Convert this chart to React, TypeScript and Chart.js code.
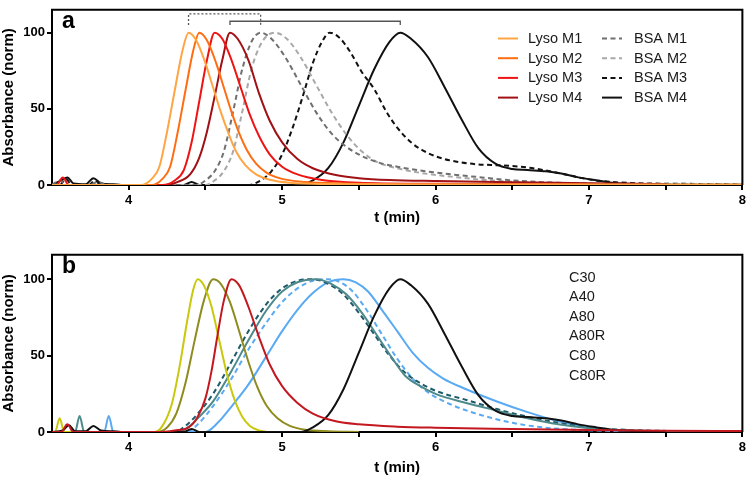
import React, { useEffect, useRef } from "react";
import { Chart, registerables } from "chart.js";
Chart.register(...registerables);

type P = [number, number];

// ---------- axes ----------
const xTickValues = [4, 4.5, 5, 5.5, 6, 6.5, 7, 7.5, 8];
const xTickLabels = ["4", "", "5", "", "6", "", "7", "", "8"];
const yTickValues = [0, 50, 100];
const xTitle = "t (min)";
const yTitle = "Absorbance (norm)";

// ---------- panel a ----------
const lysoM1: P[] = [[3.5, 0], [4.08, 0], [4.15, 4], [4.2, 12], [4.25, 35], [4.3, 62], [4.35, 88], [4.39, 100], [4.44, 95], [4.5, 80], [4.55, 64], [4.6, 48], [4.65, 34], [4.7, 22], [4.76, 13], [4.83, 7], [4.92, 3.5], [5.05, 1.5], [5.3, 0.6], [6, 0.3], [8, 0.3]];
const lysoM2: P[] = [[3.5, 0], [4.15, 0], [4.22, 4], [4.27, 12], [4.32, 35], [4.37, 62], [4.42, 88], [4.46, 100], [4.51, 95], [4.57, 80], [4.62, 64], [4.67, 48], [4.72, 34], [4.77, 23], [4.83, 14], [4.9, 8], [5.0, 4], [5.15, 2], [5.4, 1], [6, 0.5], [7.2, 0.2]];
const lysoM3: P[] = [[3.5, 0], [3.53, 0], [3.57, 5], [3.61, 0], [4.22, 0], [4.3, 3], [4.36, 10], [4.41, 28], [4.46, 55], [4.51, 82], [4.56, 100], [4.61, 96], [4.67, 82], [4.73, 64], [4.79, 46], [4.85, 32], [4.92, 20], [5.0, 12], [5.1, 7], [5.25, 3.5], [5.5, 1.5], [6, 0.8], [7, 0.3]];
const lysoM4: P[] = [[3.5, 0], [4.24, 0], [4.32, 2], [4.4, 7], [4.46, 18], [4.51, 35], [4.56, 58], [4.61, 82], [4.66, 100], [4.71, 96], [4.78, 82], [4.85, 60], [4.92, 42], [5.0, 28], [5.1, 17], [5.2, 11], [5.35, 6.5], [5.5, 4.5], [5.7, 3.3], [6, 2.6], [6.5, 1.8], [7, 1.2], [7.5, 0.5]];
const bsaM1: P[] = [[3.5, 0], [3.55, 3], [3.6, 0], [3.74, 0], [3.8, 2], [3.86, 0], [4.44, 0], [4.5, 3], [4.56, 9], [4.62, 22], [4.68, 48], [4.74, 76], [4.8, 94], [4.86, 100], [4.93, 96], [5.02, 84], [5.12, 66], [5.22, 48], [5.32, 34], [5.42, 25], [5.52, 19], [5.62, 15], [5.75, 12], [5.9, 9.5], [6.1, 7], [6.3, 5], [6.5, 3], [6.8, 1.5], [7.2, 0.6], [8, 0.4]];
const bsaM2: P[] = [[3.5, 0], [4.5, 0], [4.56, 3], [4.62, 9], [4.68, 22], [4.74, 48], [4.8, 76], [4.87, 94], [4.95, 100], [5.03, 96], [5.12, 84], [5.22, 66], [5.32, 48], [5.42, 33], [5.52, 22], [5.62, 15], [5.75, 11], [5.9, 8], [6.1, 5.5], [6.3, 3.5], [6.5, 2.2], [6.8, 1], [7.2, 0.4], [8, 0.3]];
const bsaM3: P[] = [[3.5, 0], [3.55, 0], [3.59, 4], [3.63, 0], [3.74, 0], [3.78, 3], [3.82, 0], [4.78, 0], [4.86, 3], [4.93, 9], [5.0, 20], [5.07, 38], [5.14, 60], [5.2, 80], [5.26, 94], [5.31, 100], [5.37, 97], [5.44, 88], [5.52, 74], [5.6, 63], [5.68, 48], [5.74, 39], [5.84, 28], [5.95, 21], [6.06, 17], [6.17, 14.8], [6.28, 13.5], [6.4, 13], [6.5, 12.5], [6.6, 11.5], [6.72, 9.5], [6.82, 7.5], [6.93, 5], [7.05, 3], [7.15, 2], [7.3, 1.2], [7.6, 0.8], [8, 0.5]];
const bsaM4: P[] = [[3.5, 0], [3.56, 3], [3.6, 5], [3.64, 1], [3.72, 0.5], [3.77, 4.5], [3.82, 1], [3.9, 0.5], [3.95, 0], [4.36, 0], [4.41, 2], [4.46, 0], [5.1, 0], [5.2, 3], [5.3, 11], [5.4, 28], [5.5, 52], [5.6, 76], [5.7, 94], [5.77, 100], [5.84, 96], [5.95, 84], [6.06, 64], [6.17, 43], [6.28, 24], [6.39, 14], [6.5, 10.5], [6.6, 9.8], [6.72, 9], [6.82, 7.5], [6.93, 5], [7.05, 3], [7.15, 1.5], [7.3, 0.6], [7.5, 0.3]];

// ---------- panel b ----------
const c30: P[] = [[3.5, 0], [3.52, 0], [3.55, 9], [3.58, 0], [4.17, 0], [4.22, 4], [4.28, 18], [4.33, 42], [4.38, 72], [4.42, 93], [4.45, 100], [4.49, 96], [4.54, 82], [4.59, 60], [4.64, 38], [4.69, 21], [4.74, 10], [4.79, 4], [4.85, 1], [4.9, 0]];
const a40: P[] = [[3.5, 0], [4.18, 0], [4.25, 3], [4.31, 12], [4.37, 32], [4.43, 60], [4.49, 86], [4.55, 100], [4.6, 97], [4.66, 85], [4.72, 66], [4.78, 46], [4.84, 29], [4.9, 17], [4.97, 9], [5.05, 4], [5.15, 1.5], [5.3, 0.5], [5.5, 0]];
const a80: P[] = [[3.5, 0], [3.65, 0], [3.68, 10.5], [3.71, 0], [4.32, 0], [4.4, 4], [4.45, 9], [4.55, 20], [4.67, 40], [4.78, 60], [4.9, 80], [5.0, 92], [5.1, 98], [5.22, 100], [5.32, 97], [5.42, 90], [5.52, 78], [5.62, 63], [5.72, 48], [5.8, 37], [5.9, 30], [6.0, 25], [6.2, 19], [6.4, 14], [6.6, 9], [6.8, 5], [7.0, 2.5], [7.3, 1], [7.6, 0.5], [8, 0.3]];
const a80r: P[] = [[3.5, 0], [4.3, 0], [4.37, 4], [4.45, 12], [4.55, 25], [4.67, 46], [4.78, 66], [4.9, 84], [5.0, 94], [5.1, 99], [5.2, 100], [5.3, 97], [5.4, 90], [5.5, 78], [5.6, 64], [5.7, 50], [5.8, 39], [5.9, 32], [6.0, 27], [6.2, 21], [6.4, 15], [6.6, 10], [6.8, 6], [7.0, 3], [7.3, 1.2], [7.6, 0.6], [8, 0.4]];
const c80: P[] = [[3.5, 0], [3.84, 0], [3.87, 10.5], [3.9, 0], [4.5, 0], [4.58, 6], [4.68, 18], [4.78, 31], [4.9, 50], [5.0, 66], [5.1, 80], [5.2, 91], [5.3, 98], [5.4, 100], [5.48, 98], [5.56, 92], [5.65, 80], [5.75, 66], [5.85, 52], [5.95, 42], [6.05, 35], [6.2, 28], [6.4, 20], [6.6, 13], [6.8, 7], [7.0, 3], [7.2, 1], [7.5, 0.3]];
const c80r: P[] = [[3.5, 0], [4.38, 0], [4.45, 5], [4.55, 17], [4.67, 35], [4.78, 54], [4.9, 72], [5.0, 85], [5.1, 94], [5.2, 99], [5.3, 100], [5.38, 98], [5.46, 92], [5.55, 80], [5.65, 64], [5.75, 48], [5.85, 35], [5.95, 26], [6.1, 18], [6.3, 11], [6.5, 6], [6.7, 3], [6.9, 1.5], [7.2, 0.5]];
const refLyso: P[] = [[3.5, 0], [3.56, 0], [3.6, 5], [3.64, 0], [4.19, 0], [4.3, 1], [4.39, 3], [4.45, 10], [4.5, 22], [4.54, 40], [4.58, 64], [4.62, 86], [4.67, 100], [4.72, 96], [4.78, 82], [4.85, 62], [4.92, 44], [5.0, 30], [5.1, 19], [5.2, 12], [5.35, 7], [5.5, 5], [5.75, 3.5], [6, 2.8], [6.5, 2], [7, 1.3], [7.5, 0.8], [8, 0.6]];
const refBsa: P[] = [[3.5, 0], [3.57, 1], [3.61, 4.5], [3.65, 0.5], [3.72, 0.5], [3.77, 4], [3.82, 1], [3.9, 0.5], [3.95, 0], [4.36, 0], [4.41, 2], [4.46, 0], [5.12, 0], [5.2, 3], [5.3, 11], [5.4, 28], [5.5, 52], [5.6, 76], [5.7, 94], [5.77, 100], [5.84, 96], [5.95, 84], [6.06, 64], [6.17, 43], [6.28, 24], [6.39, 14], [6.5, 10.5], [6.6, 9.8], [6.72, 9], [6.82, 7.5], [6.93, 5], [7.05, 3], [7.15, 1.5], [7.3, 0.6], [7.5, 0.3]];

// ---------- labels ----------
const legendA1 = ["Lyso M1", "Lyso M2", "Lyso M3", "Lyso M4"];
const legendA2 = ["BSA M1", "BSA M2", "BSA M3", "BSA M4"];
const legendB = ["C30", "A40", "A80", "A80R", "C80", "C80R"];

// bracket endpoints (t values of peaks)
const bracketDotted: number[] = [4.39, 4.86];
const bracketSolid: number[] = [4.66, 5.77];

const FONT = "'Liberation Sans', Arial, Helvetica, sans-serif";

interface Series { label: string; data: P[]; color: string; dash?: number[]; }

const seriesA: Series[] = [
  { label: legendA1[0], data: lysoM1, color: "#ffa544" },
  { label: legendA1[1], data: lysoM2, color: "#ff6d12" },
  { label: legendA1[2], data: lysoM3, color: "#ee1414" },
  { label: legendA1[3], data: lysoM4, color: "#a01015" },
  { label: legendA2[0], data: bsaM1, color: "#6f6f6f", dash: [5, 3.5] },
  { label: legendA2[1], data: bsaM2, color: "#a8a8a8", dash: [5, 3.5] },
  { label: legendA2[2], data: bsaM3, color: "#111111", dash: [5, 3.5] },
  { label: legendA2[3], data: bsaM4, color: "#111111" },
];

const seriesB: Series[] = [
  { label: "ref Lyso", data: refLyso, color: "#c41820" },
  { label: "ref BSA", data: refBsa, color: "#111111" },
  { label: legendB[0], data: c30, color: "#c9c80c" },
  { label: legendB[1], data: a40, color: "#8f8b1f" },
  { label: legendB[2], data: a80, color: "#4e8a8b" },
  { label: legendB[3], data: a80r, color: "#1d5a6a", dash: [5, 3.5] },
  { label: legendB[4], data: c80, color: "#5aaaf3" },
  { label: legendB[5], data: c80r, color: "#5aaaf3", dash: [5, 3.5] },
];

interface PanelCfg {
  letter: string;
  yMax: number;
  padTop: number;
  axisHeight: number;
  titlePad: number;
  legend: { cols: { items: Series[]; swX: number | null; txX: number }[]; y0: number; dy: number };
  brackets?: boolean;
}

function makeChart(canvas: HTMLCanvasElement, series: Series[], cfg: PanelCfg) {
  const overlay = {
    id: "overlay" + cfg.letter,
    afterDatasetsDraw(chart: any) {
      const { ctx, chartArea: ca } = chart;
      const xs = chart.scales.x;
      const ys = chart.scales.y;
      ctx.save();
      ctx.strokeStyle = "#000";
      ctx.lineWidth = 2;
      ctx.setLineDash([]);
      ctx.beginPath();
      ctx.moveTo(ca.left - 1, ca.top);
      ctx.lineTo(ca.right, ca.top);
      ctx.lineTo(ca.right, ca.bottom);
      ctx.stroke();
      ctx.fillStyle = "#000";
      ctx.font = `bold 23px ${FONT}`;
      ctx.textBaseline = "alphabetic";
      ctx.textAlign = "left";
      ctx.fillText(cfg.letter, 62, 28);
      if (cfg.brackets) {
        ctx.strokeStyle = "#555";
        ctx.lineWidth = 1.3;
        const foot = ys.getPixelForValue(105);
        const drawBr = (pair: number[], level: number, dash: number[]) => {
          const x1 = xs.getPixelForValue(pair[0]);
          const x2 = xs.getPixelForValue(pair[1]);
          const yy = ys.getPixelForValue(level);
          ctx.setLineDash(dash);
          ctx.beginPath();
          ctx.moveTo(x1, foot);
          ctx.lineTo(x1, yy);
          ctx.lineTo(x2, yy);
          ctx.lineTo(x2, foot);
          ctx.stroke();
        };
        drawBr(bracketDotted, 112.3, [2, 2]);
        drawBr(bracketSolid, 107.5, []);
      }
      ctx.font = `14.5px ${FONT}`;
      ctx.textBaseline = "middle";
      cfg.legend.cols.forEach((col) => {
        col.items.forEach((s, i) => {
          const y = cfg.legend.y0 + i * cfg.legend.dy;
          if (col.swX !== null) {
            ctx.strokeStyle = s.color;
            ctx.lineWidth = 2;
            ctx.setLineDash(s.dash || []);
            ctx.beginPath();
            ctx.moveTo(col.swX, y);
            ctx.lineTo(col.swX + 20, y);
            ctx.stroke();
          }
          ctx.fillStyle = "#1a1a1a";
          ctx.fillText(s.label, col.txX, y + 0.5);
        });
      });
      ctx.restore();
    },
  };

  return new Chart(canvas, {
    type: "scatter",
    data: {
      datasets: series.map((s) => ({
        label: s.label,
        data: s.data.map(([x, y]) => ({ x, y })),
        borderColor: s.color,
        backgroundColor: s.color,
        borderWidth: 2,
        borderDash: s.dash || [],
        showLine: true,
        pointRadius: 0,
        pointHoverRadius: 0,
        tension: 0.4,
        cubicInterpolationMode: "monotone" as const,
        fill: false,
      })),
    },
    options: {
      animation: false,
      responsive: false,
      maintainAspectRatio: false,
      events: [],
      layout: { padding: { top: cfg.padTop, right: 6, left: 0, bottom: 0 } },
      plugins: { legend: { display: false }, tooltip: { enabled: false } },
      scales: {
        x: {
          type: "linear",
          min: 3.5,
          max: 8,
          afterBuildTicks: (s: any) => {
            s.ticks = xTickValues.map((v) => ({ value: v }));
          },
          afterFit: (s: any) => {
            s.height = cfg.axisHeight;
          },
          ticks: {
            autoSkip: false,
            maxRotation: 0,
            padding: 3,
            color: "#000",
            font: { family: FONT, size: 13, weight: "bold" },
            callback: (v: any) => {
              const i = xTickValues.indexOf(Number(v));
              return i >= 0 ? xTickLabels[i] : "";
            },
          },
          grid: { display: true, drawOnChartArea: false, drawTicks: true, tickLength: 5, color: "#000", lineWidth: 2 },
          border: { display: true, color: "#000", width: 2 },
          title: {
            display: true,
            text: xTitle,
            color: "#000",
            font: { family: FONT, size: 15, weight: "bold" },
            padding: { top: 0, bottom: cfg.titlePad },
          },
        },
        y: {
          type: "linear",
          min: 0,
          max: cfg.yMax,
          afterBuildTicks: (s: any) => {
            s.ticks = yTickValues.map((v) => ({ value: v }));
          },
          afterFit: (s: any) => {
            s.width = 52;
          },
          ticks: {
            padding: 2,
            color: "#000",
            font: { family: FONT, size: 13, weight: "bold" },
          },
          grid: { display: true, drawOnChartArea: false, drawTicks: true, tickLength: 5, color: "#000", lineWidth: 2 },
          border: { display: true, color: "#000", width: 2 },
          title: {
            display: true,
            text: yTitle,
            color: "#000",
            font: { family: FONT, size: 15, weight: "bold" },
            padding: { top: 0, bottom: 0 },
          },
        },
      },
    },
    plugins: [overlay],
  } as any);
}

export default function App() {
  const refA = useRef<HTMLCanvasElement>(null);
  const refB = useRef<HTMLCanvasElement>(null);

  useEffect(() => {
    const a = makeChart(refA.current!, seriesA, {
      letter: "a",
      yMax: 115,
      padTop: 1,
      axisHeight: 60,
      titlePad: 18,
      brackets: true,
      legend: {
        cols: [
          { items: seriesA.slice(0, 4), swX: 498, txX: 528 },
          { items: seriesA.slice(4, 8), swX: 602, txX: 634 },
        ],
        y0: 38.5,
        dy: 19.7,
      },
    });
    const b = makeChart(refB.current!, seriesB, {
      letter: "b",
      yMax: 116,
      padTop: 1,
      axisHeight: 54,
      titlePad: 9,
      legend: {
        cols: [{ items: seriesB.slice(2), swX: null, txX: 569 }],
        y0: 32,
        dy: 19.6,
      },
    });
    return () => {
      a.destroy();
      b.destroy();
    };
  }, []);

  return (
    <div style={{ position: "absolute", left: 0, top: 0, width: 749, height: 486, background: "#fff" }}>
      <canvas ref={refA} width={749} height={245} style={{ position: "absolute", left: 0, top: 0, width: 749, height: 245 }} />
      <canvas ref={refB} width={749} height={241} style={{ position: "absolute", left: 0, top: 245, width: 749, height: 241 }} />
    </div>
  );
}
